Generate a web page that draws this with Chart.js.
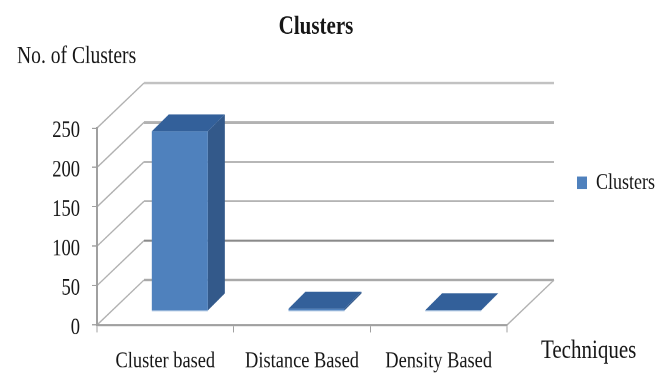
<!DOCTYPE html>
<html>
<head>
<meta charset="utf-8">
<style>
  html, body { margin: 0; padding: 0; background: #fff; overflow: hidden; }
  #wrap { width: 667px; height: 373px; overflow: hidden; }
  /* The chart uses tall, narrow lettering: it is laid out short and stretched vertically */
  #chart { display: block; transform-origin: 0 0; transform: scaleY(1.2517); }
</style>
<script src="https://cdn.jsdelivr.net/npm/chart.js@4/dist/chart.umd.min.js"></script>
</head>
<body>
<div id="wrap"><canvas id="chart" width="667" height="298"></canvas></div>
<script>
const categories = ["Cluster based", "Distance Based", "Density Based"];
const clusterValues = [228, 3, 1];
const yTicks = [0, 50, 100, 150, 200, 250];
const wallLineColors = ["#a9a9a9", "#8a8a8a", "#b4b4b4", "#adadad", "#b2b2b2", "#c2c2c2"];
const wallLineWidths = [1.8, 1.8, 1.4, 1.4, 2.4, 1.8];

const STRETCH = 373 / 298;
const sy = v => v / STRETCH;   // page pixels to chart pixels, vertically

const SERIF = '"Liberation Serif", "Times New Roman", serif';
const INK = "#161616";
const AXIS = "#a0a0a0";
// Oblique projection used for the back wall and for the bar depth
const WALL_DX = 47, WALL_DY = sy(-45);
const BAR_SHIFT_X = 14.5, BAR_SHIFT_Y = sy(-14);
const BAR_DX = 17, BAR_DY = sy(-17);

function line(ctx, x1, y1, x2, y2, color, width) {
  ctx.strokeStyle = color;
  ctx.lineWidth = width;
  ctx.beginPath();
  ctx.moveTo(x1, y1);
  ctx.lineTo(x2, y2);
  ctx.stroke();
}

function poly(ctx, pts, color) {
  ctx.fillStyle = color;
  ctx.beginPath();
  pts.forEach((p, i) => i ? ctx.lineTo(p[0], p[1]) : ctx.moveTo(p[0], p[1]));
  ctx.closePath();
  ctx.fill();
}

const perspective = {
  id: "perspective",
  afterLayout(chart) {
    // Title is centred a little left of the canvas; legend sits beside the wall
    const t = chart.titleBlock;
    t.left = 0; t.right = 632;
    const l = chart.legend;
    l.left = 567; l.right = 667; l.top = sy(159); l.bottom = sy(199);
    l.adjustHitBoxes();
  },
  beforeDraw(chart) {
    const { ctx, chartArea: a, scales: { y } } = chart;
    ctx.save();
    yTicks.forEach((v, i) => {
      const py = y.getPixelForValue(v);
      line(ctx, a.left, py, a.left + WALL_DX, py + WALL_DY, "#b0b0b0", 1.2);
      line(ctx, a.left + WALL_DX, py + WALL_DY, a.right + WALL_DX, py + WALL_DY,
           wallLineColors[i], wallLineWidths[i]);
    });
    const b = y.getPixelForValue(0);
    line(ctx, a.right, b, a.right + WALL_DX, b + WALL_DY, "#b0b0b0", 1.2);
    ctx.restore();
  },
  beforeDatasetsDraw(chart) {
    const ctx = chart.ctx;
    ctx.save();
    ctx.translate(BAR_SHIFT_X, BAR_SHIFT_Y);
    chart.getDatasetMeta(0).data.forEach(bar => {
      const l = bar.x - bar.width / 2, r = bar.x + bar.width / 2;
      poly(ctx, [[r, bar.y], [r + BAR_DX, bar.y + BAR_DY], [r + BAR_DX, bar.base + BAR_DY], [r, bar.base]], "#33598a");
      poly(ctx, [[l, bar.y], [l + BAR_DX, bar.y + BAR_DY], [r + BAR_DX, bar.y + BAR_DY], [r, bar.y]], "#33609a");
    });
  },
  afterDatasetsDraw(chart) {
    const ctx = chart.ctx;
    chart.getDatasetMeta(0).data.forEach(bar => {
      line(ctx, bar.x - bar.width / 2, bar.base + 0.4, bar.x + bar.width / 2, bar.base + 0.4, "#b9cfe8", 0.8);
    });
    ctx.restore();
  },
  afterDraw(chart) {
    const ctx = chart.ctx;
    ctx.save();
    ctx.fillStyle = INK;
    ctx.textBaseline = "alphabetic";
    ctx.font = "19.6px " + SERIF;
    ctx.fillText("No. of Clusters", 17, sy(63));
    ctx.font = "21px " + SERIF;
    ctx.fillText("Techniques", 541, sy(358));
    ctx.restore();
  }
};

new Chart(document.getElementById("chart"), {
  type: "bar",
  data: {
    labels: categories,
    datasets: [{
      label: "Clusters",
      data: clusterValues,
      backgroundColor: "#4f81bd",
      borderWidth: 0,
      barPercentage: 0.41,
      categoryPercentage: 1
    }]
  },
  plugins: [perspective],
  options: {
    responsive: false,
    animation: false,
    devicePixelRatio: 2,
    layout: { padding: { right: 160 } },
    plugins: {
      title: {
        display: true,
        text: "Clusters",
        color: INK,
        font: { family: SERIF, size: 21, weight: "bold", lineHeight: 1.2 },
        padding: { top: 9, bottom: sy(128) - 9 - 25.2 }
      },
      legend: {
        position: "chartArea",
        align: "start",
        labels: {
          boxWidth: 10,
          boxHeight: 10,
          color: INK,
          font: { family: SERIF, size: 18 }
        }
      },
      tooltip: { enabled: false }
    },
    scales: {
      x: {
        afterFit(s) { s.height = 298 - sy(325); },
        grid: { drawOnChartArea: false, color: AXIS, tickLength: 6 },
        border: { color: AXIS, width: 1.6 },
        ticks: { color: INK, font: { family: SERIF, size: 18.4 }, padding: 12, maxRotation: 0, autoSkip: false }
      },
      y: {
        min: 0,
        max: 250,
        afterFit(s) { s.width = 97; },
        afterBuildTicks(s) { s.ticks = yTicks.map(value => ({ value })); },
        grid: { drawOnChartArea: false, color: AXIS, tickLength: 5 },
        border: { color: AXIS, width: 2 },
        ticks: { color: INK, font: { family: SERIF, size: 18.5 }, padding: 12, labelOffset: sy(3) }
      }
    }
  }
});
</script>
</body>
</html>
